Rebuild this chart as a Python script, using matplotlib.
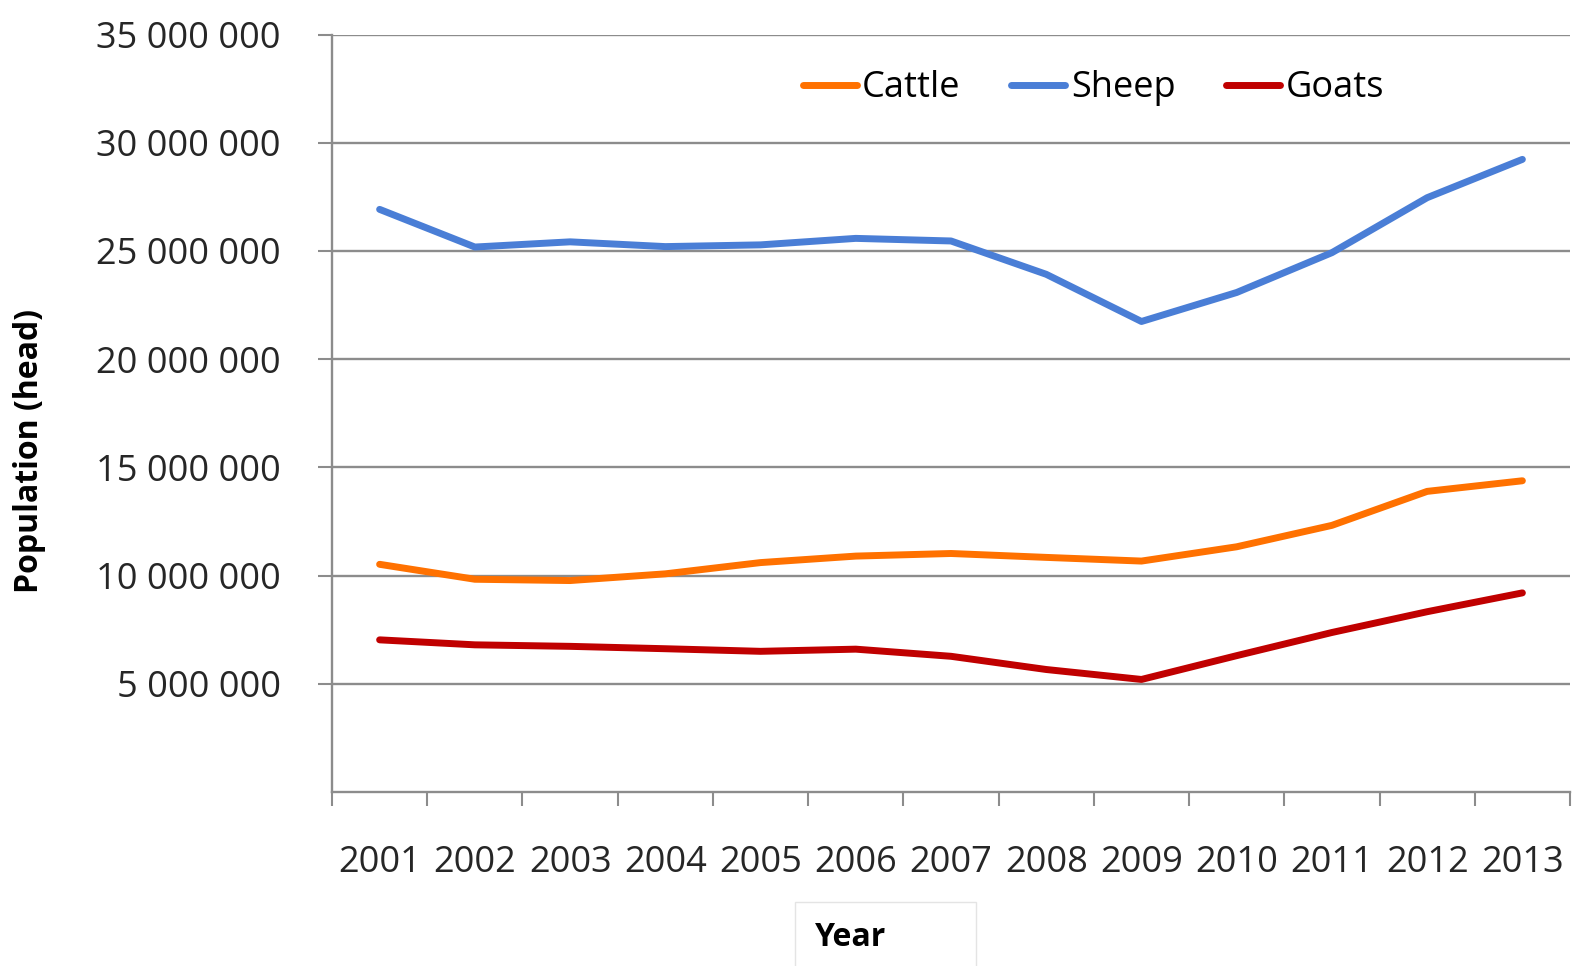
import numpy as np
import matplotlib.pyplot as plt
from matplotlib.patches import Rectangle

plt.rcParams['font.family'] = ['Open Sans', 'DejaVu Sans']

# Livestock population by year
years = ['2001', '2002', '2003', '2004', '2005', '2006', '2007',
         '2008', '2009', '2010', '2011', '2012', '2013']
cattle = [10.52, 9.83, 9.77, 10.08, 10.60, 10.90, 11.02,
          10.84, 10.67, 11.33, 12.32, 13.89, 14.38]
sheep = [26.92, 25.18, 25.42, 25.20, 25.28, 25.58, 25.46,
         23.92, 21.74, 23.08, 24.92, 27.46, 29.23]
goats = [7.03, 6.80, 6.73, 6.62, 6.50, 6.60, 6.27,
         5.66, 5.20, 6.30, 7.37, 8.33, 9.20]
y_ticks = [5e6, 10e6, 15e6, 20e6, 25e6, 30e6, 35e6]
y_tick_labels = ['5 000 000', '10 000 000', '15 000 000', '20 000 000',
                 '25 000 000', '30 000 000', '35 000 000']

W, H = 1581, 966
fig = plt.figure(figsize=(W / 100, H / 100), dpi=100)
ax = fig.add_axes([332 / W, 1 - 792 / H, (1570 - 332) / W, (792 - 34.5) / H])

x = np.arange(len(years))
scale = 1e6
ax.plot(x, np.array(cattle) * scale, color='#ff7100', lw=5,
        solid_capstyle='round', label='Cattle', zorder=3)
ax.plot(x, np.array(sheep) * scale, color='#4a7ed6', lw=5,
        solid_capstyle='round', label='Sheep', zorder=3)
ax.plot(x, np.array(goats) * scale, color='#c00000', lw=5,
        solid_capstyle='round', label='Goats', zorder=3)

ax.set_xlim(-0.5, len(years) - 0.5)
ax.set_ylim(0, 35e6)

grid_col = '#8c8c8c'
ax.set_yticks(y_ticks)
ax.set_yticklabels(y_tick_labels, fontsize=26, color='#262626')
ax.yaxis.grid(True, color=grid_col, lw=1.7)
ax.set_axisbelow(True)
ax.tick_params(axis='y', length=10, width=1.5, color=grid_col, pad=27)

ax.set_xticks(x)
ax.set_xticklabels(years, fontsize=26, color='#262626')
ax.set_xticks(np.arange(-0.5, len(years)), minor=True)
ax.tick_params(axis='x', which='major', length=0, pad=38)
ax.tick_params(axis='x', which='minor', length=10, width=1.5, color=grid_col)

for s in ['top', 'right']:
    ax.spines[s].set_visible(False)
for s in ['left', 'bottom']:
    ax.spines[s].set_color(grid_col)
    ax.spines[s].set_linewidth(1.7)

leg = ax.legend(ncol=3, loc='center', bbox_to_anchor=(0.615, 0.929),
                frameon=False, fontsize=26, handlelength=1.5,
                handletextpad=0.15, columnspacing=1.4)

fig.text(30 / W, 1 - 451 / H, 'Population (head)', rotation=90,
         ha='center', va='center', fontsize=23, fontweight='bold')

fig.patches.append(Rectangle((795 / W, -0.01), (976 - 795) / W, (966 - 902) / H + 0.01,
                             transform=fig.transFigure, facecolor='white',
                             edgecolor='#e4e4e4', lw=1))
fig.text(851 / W, 1 - 938 / H, 'Year', ha='center', va='center',
         fontsize=23, fontweight='bold')

fig.savefig('out.png', dpi=100)
